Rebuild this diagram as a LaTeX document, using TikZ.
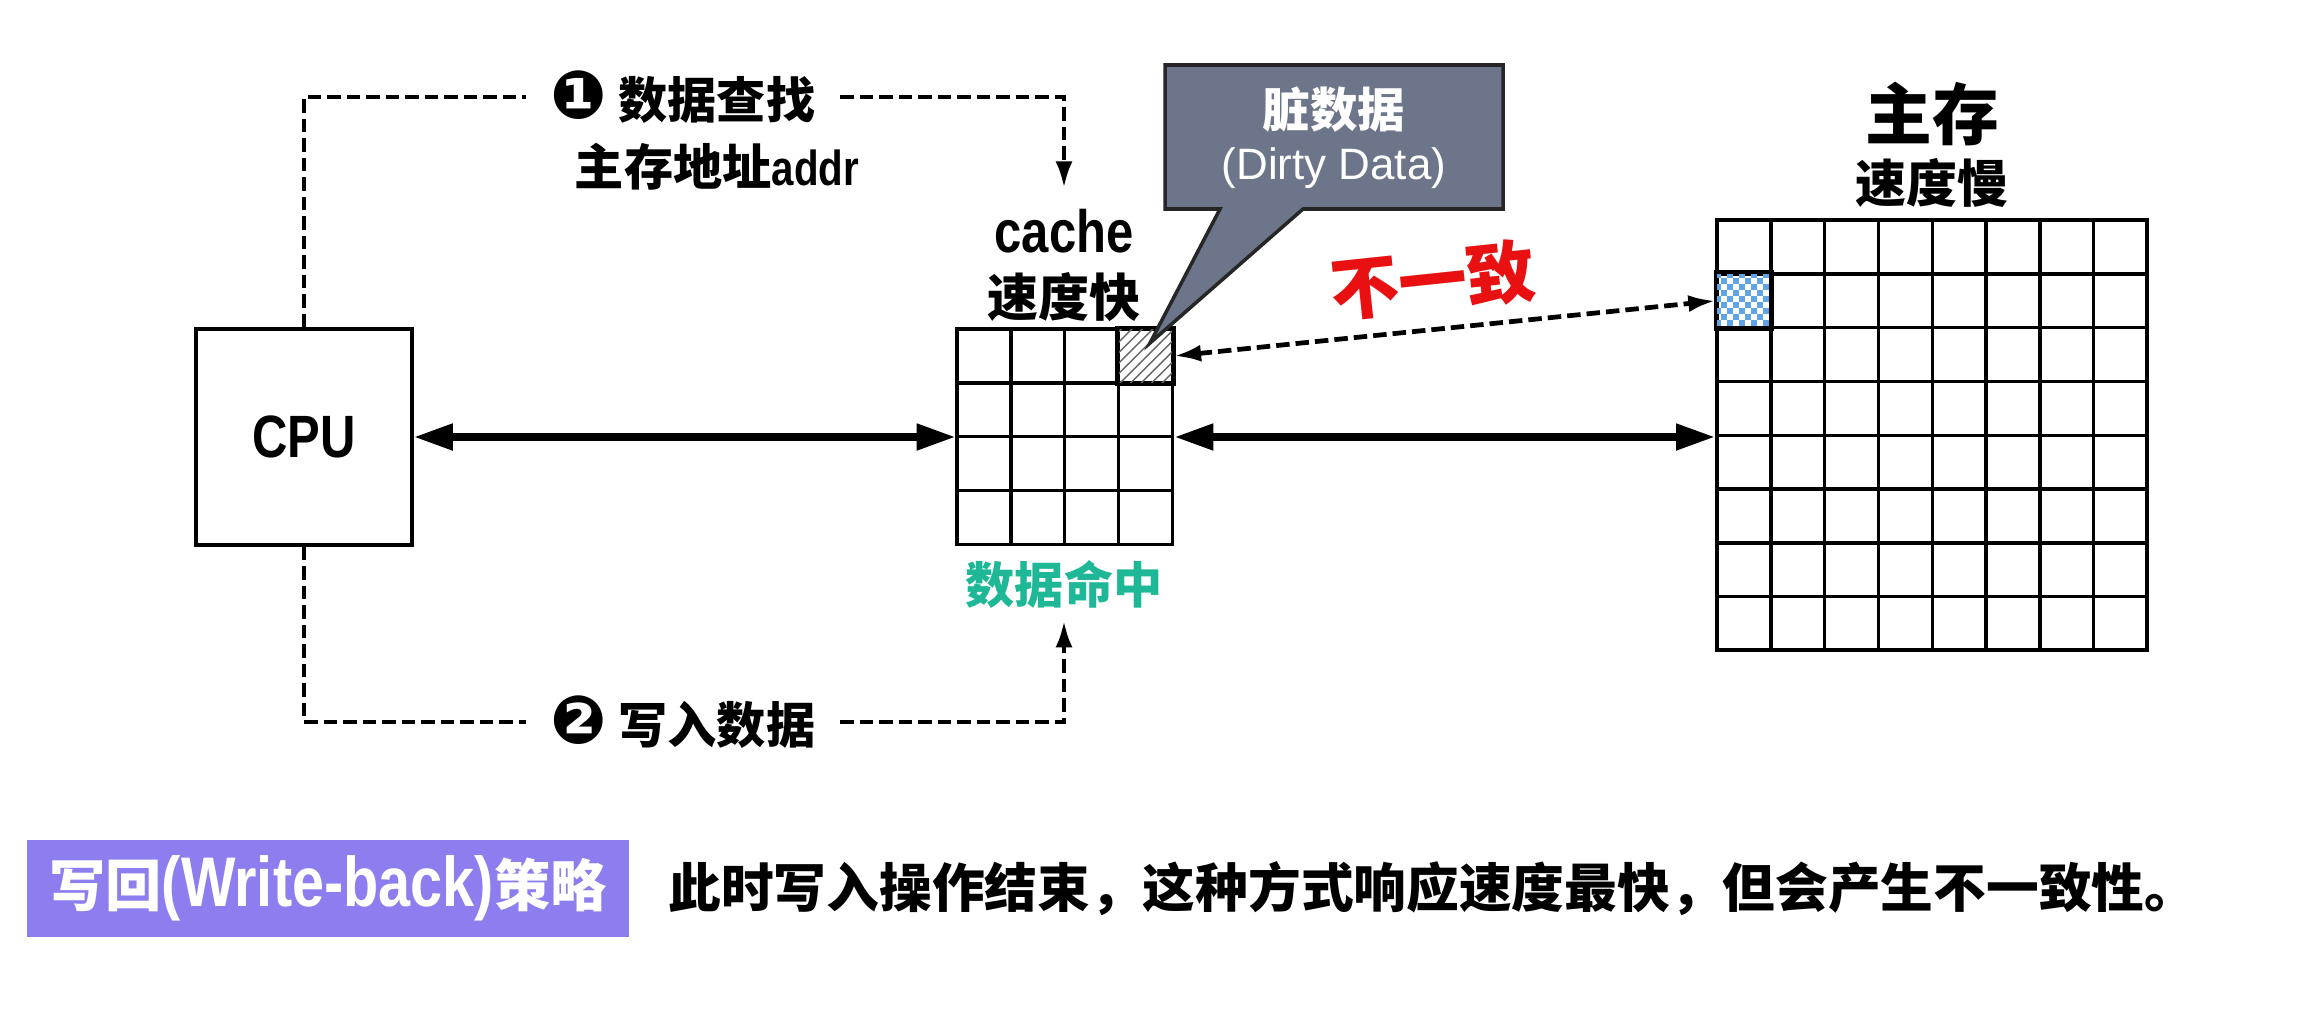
\documentclass[tikz,border=0pt]{standalone}
\usepackage{fontspec}
\setmainfont{Noto Sans CJK SC}
\newfontfamily\estrecha{Liberation Sans}[FakeStretch=0.82]
\newfontfamily\normalita{Liberation Sans}
\newfontfamily\simbolos{DejaVu Sans}
\usetikzlibrary{arrows.meta,patterns}
\definecolor{pizarra}{RGB}{108,117,137}
\definecolor{morado}{RGB}{140,126,238}
\definecolor{verdeazul}{RGB}{30,184,150}
\definecolor{rojo}{RGB}{232,16,16}
\definecolor{azulcelda}{RGB}{96,164,232}
\tikzset{
  celda/.style={draw,line width=1pt,minimum size=5.38mm,inner sep=0pt},
  trazo/.style={line width=1.35pt,dash pattern=on 1.35mm off 0.6mm},
  punta/.style={arrows={-Latex[length=2.7mm,width=1.7mm]}},
  flecha/.style={line width=2.2pt,arrows={Triangle[length=3.9mm,width=2.5mm]-Triangle[length=3.9mm,width=2.5mm]}},
}
\begin{document}
\begin{tikzpicture}[x=0.1mm,y=-0.1mm]
    \useasboundingbox (0,0) rectangle (2321,1018);

    % CPU
    \node[draw,line width=1pt,minimum width=21.6mm,minimum height=21.6mm,font=\estrecha\bfseries\fontsize{17}{20}\selectfont] (cpu) at (304,437) {CPU};

    % Cache
    \node[draw,line width=1pt,minimum size=21.52mm,inner sep=0pt] (cache) at (1065,437) {};
    \foreach \f in {0,...,3}
        \foreach \c in {0,...,3}
            \node[celda] (c\f\c) at (984+53.8*\c,356+53.8*\f) {};
    \draw[line width=1pt,pattern=north east lines,pattern color=black!60] (c03.north west) rectangle (c03.south east);
    \node[font=\estrecha\bfseries\fontsize{17}{20}\selectfont,inner ysep=2mm] (cachelbl) at (1064,231) {cache};
    \node[font=\bfseries\fontsize{14.5}{17}\selectfont] (rapida) at (1064,297) {速度快};
    \node[font=\bfseries\fontsize{14}{17}\selectfont,text=verdeazul] (hit) at (1064,584) {数据命中};

    % Memoria principal
    \node[draw,line width=1pt,minimum size=43.04mm,inner sep=0pt] (mem) at (1932,435) {};
    \foreach \f in {0,...,7}
        \foreach \c in {0,...,7}
            \node[celda] (m\f\c) at (1744+53.8*\c,247+53.8*\f) {};
    % Bloque de memoria (damero)
    \foreach \i in {0,...,8}
        \foreach \j in {0,...,8} {
            \pgfmathtruncatemacro\paridad{mod(\i+\j,2)}
            \ifnum\paridad=0
                \fill[azulcelda] ([xshift=\i*0.598mm,yshift=-\j*0.598mm]m10.north west) rectangle ++(5.98,5.98);
            \fi
        }
    \draw[line width=1pt] (m10.north west) rectangle (m10.south east);
    \node[font=\bfseries\fontsize{19}{22}\selectfont] (memlbl) at (1932,114) {主存};
    \node[font=\bfseries\fontsize{14.5}{17}\selectfont] (lenta) at (1932,183) {速度慢};

    % Buses
    \draw[flecha] (cpu.east) -- (cache.west);
    \draw[flecha] (cache.east) -- (cache.east -| mem.west);

    % Paso 1: busqueda
    \node[font=\bfseries\fontsize{14}{17}\selectfont,inner xsep=2.4mm] (busca) at (683,97) {{\simbolos\fontsize{19}{20}\selectfont ❶}\ 数据查找};
    \node[font=\bfseries\fontsize{14}{17}\selectfont] (addr) at (717,167) {主存地址{\estrecha addr}};
    \draw[trazo] (cpu.north) |- (busca.west);
    \draw[trazo,punta] (busca.east) -| (cachelbl.north);

    % Paso 2: escritura
    \node[font=\bfseries\fontsize{14}{17}\selectfont,inner xsep=2.4mm] (escribe) at (683,722) {{\simbolos\fontsize{19}{20}\selectfont ❷}\ 写入数据};
    \draw[trazo] (cpu.south) |- (escribe.west);
    \draw[trazo,punta] (escribe.east) -| (hit.south);

    % Inconsistencia
    \draw[trazo,arrows={Latex[length=2.7mm,width=1.7mm]-Latex[length=2.7mm,width=1.7mm]}] (c03.east) -- (m10.west);
    \node[font=\bfseries\fontsize{19.5}{22}\selectfont,text=rojo,rotate=6] (distinto) at (1433,280) {不一致};

    % Globo
    \filldraw[fill=pizarra,draw=black!85,line width=1pt] (1165,65) -- (1503,65) -- (1503,209) -- (1303,209) -- (1150,343) -- (1220,209) -- (1165,209) -- cycle;
    \node[font=\bfseries\fontsize{13.5}{16}\selectfont,text=white] (sucio) at (1334,110) {脏数据};
    \node[font=\normalita\fontsize{12.5}{15}\selectfont,text=white] (dirty) at (1334,168) {(Dirty Data)};

    % Nota inferior
    \node[fill=morado,minimum width=60.2mm,minimum height=9.7mm,inner sep=0pt,text=white,font=\bfseries\fontsize{16}{19}\selectfont] (estrategia) at (328,888) {写回{\estrecha\fontsize{20}{22}\selectfont(Write-back)}策略};
    \node[anchor=west,font=\bfseries\fontsize{15}{18}\selectfont] (nota) at (656,889) {此时写入操作结束，这种方式响应速度最快，但会产生不一致性。};
\end{tikzpicture}
\end{document}
